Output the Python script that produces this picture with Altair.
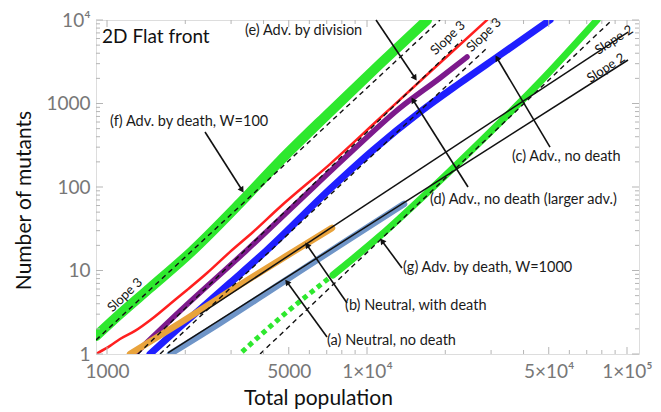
import altair as alt
import pandas as pd

# ---------------- measured curves: total population vs. number of mutants ----------------
# (f) advantage by death, W=100 (green, thick)
f_x = [907, 1122, 1463, 2123, 3247, 4627, 7205, 11220, 17010]
f_y = [1.64, 3.01, 6.17, 17.1, 64.3, 205, 791, 2972, 10000]

# (e) advantage by division (red)
e_x = [923, 1027, 1122, 1281, 1503, 1747, 2031, 2425, 2972, 3643, 4627, 7205, 11220, 17470, 28940]
e_y = [1.03, 1.25, 1.51, 1.89, 2.70, 3.97, 5.84, 9.33, 16.7, 28.9, 57.6, 188, 670, 2384, 10000]

# (d) advantageous, no death, larger advantage (purple)
d_x = [1281, 1909, 3455, 5524, 8603, 13395, 19090, 24250]
d_y = [1.0, 3.27, 17.6, 69.9, 255, 884, 2020, 3606]

# (c) advantageous, no death (blue)
c_x = [1463, 1909, 2972, 4125, 7205, 10550, 15990, 22790, 32470, 50560]
c_y = [1.0, 2.11, 7.09, 17.6, 94.6, 277, 791, 1761, 3809, 10000]

# (b) neutral, with death (orange)
b_x = [1226, 1909, 2972, 4627, 7335]
b_y = [1.0, 2.35, 5.68, 13.4, 32.3]

# (a) neutral, no death (steel blue)
a_x = [1747, 2720, 4627, 7875, 13876]
a_y = [1.0, 2.35, 6.89, 20.2, 62.6]

# (g) advantage by death, W=1000 (green; sparse points at small sizes)
g_x = [3305, 4627, 7400, 11220, 17470, 27210, 46270, 76680]
g_y = [1.06, 2.70, 8.83, 25.9, 92.0, 346, 1808, 10000]
g_sparse_until = 3  # first points drawn as separate markers

# ---------------- power-law guide lines (endpoints) ----------------
slope3_x0 = [907, 1316, 1599, 3878]
slope3_y0 = [1.47, 1.0, 1.0, 1.0]
slope3_x1 = [19090, 23200, 28940, 87560]
slope3_y1 = [10000, 5757, 4620, 10000]

slope2_x0 = [2279, 1717]
slope2_y0 = [3.01, 1.03]
slope2_x1 = [100900, 100900]
slope2_y1 = [7178, 3318]

# ---------------- annotations ----------------
label_text = ["(e) Adv. by division", "(f) Adv. by death, W=100", "(c) Adv., no death",
              "(d) Adv., no death (larger adv.)", "(g) Adv. by death, W=1000",
              "(b) Neutral, with death", "(a) Neutral, no death"]
label_x = [3395, 1027, 36120, 17470, 13750, 8230, 7017]
label_y = [7387, 600, 229, 69.9, 10.7, 3.76, 1.43]

arrow_x0 = [10830, 2382, 50560, 24460, 13630, 8375, 7017]
arrow_y0 = [10000, 456, 301, 100, 10.7, 4.08, 1.60]
arrow_x1 = [15300, 3305, 31620, 15030, 11420, 5877, 4924]
arrow_y1 = [2020, 92.0, 3508, 1102, 22.6, 20.2, 7.28]
arrow_dir = [146, 147, 329, 328, 323, 325, 324]

slope3_lbl_x = [1173, 20490, 28180]
slope3_lbl_y = [5.09, 6085, 6610]
slope2_lbl_x = [89130, 83040]
slope2_lbl_y = [5757, 2661]

# tick positions
x_major = [1000, 5000, 10000, 50000, 100000]
x_minor = [v * m for v in (1000, 10000) for m in range(2, 10) if v * m not in x_major]
y_major = [1, 10, 100, 1000, 10000]
y_minor = [v * m for v in (1, 10, 100, 1000) for m in range(2, 10)]

W, H = 543, 334
FONT = "Lato"

xs = alt.Scale(type="log", domain=[907, 111200], nice=False)
ys = alt.Scale(type="log", domain=[1, 10000], nice=False)

x_axis = alt.Axis(
    values=x_major,
    labelExpr="datum.value == 10000 ? '1×10⁴' : datum.value == 50000 ? '5×10⁴' : "
              "datum.value == 100000 ? '1×10⁵' : format(datum.value, 'd')",
    ticks=False, domain=False, grid=False, labelFont=FONT, labelFontSize=19,
    labelColor="#777777", labelPadding=8, labelFlush=False, labelOverlap=False,
    title="Total population", titleFont=FONT, titleFontSize=21, titleColor="#111111",
    titleFontWeight="normal", titleX=222, titleY=50, titleAlign="center",
    titleBaseline="alphabetic",
)
y_axis = alt.Axis(
    values=y_major,
    labelExpr="datum.value == 10000 ? '10⁴' : format(datum.value, 'd')",
    ticks=False, domain=False, grid=False, labelFont=FONT, labelFontSize=19,
    labelColor="#777777", labelPadding=6, labelOverlap=False,
    title="Number of mutants", titleFont=FONT, titleFontSize=21, titleColor="#111111",
    titleFontWeight="normal", titleAngle=270, titleX=-66, titleY=180,
    titleAlign="center", titleBaseline="alphabetic",
)


def X(field="x"):
    return alt.X(f"{field}:Q", scale=xs, axis=x_axis)


def Y(field="y"):
    return alt.Y(f"{field}:Q", scale=ys, axis=y_axis)


def curve(xv, yv, color, width, dash=None, cap="round"):
    df = pd.DataFrame({"x": xv, "y": yv})
    kw = dict(color=color, strokeWidth=width, clip=True, interpolate="monotone", strokeCap=cap)
    if dash:
        kw["strokeDash"] = dash
    return alt.Chart(df).mark_line(**kw).encode(x=X(), y=Y())


def segments(x0, y0, x1, y1, width, dash=None):
    df = pd.DataFrame({"x": x0, "y": y0, "x2": x1, "y2": y1})
    kw = dict(color="#111111", strokeWidth=width, clip=True)
    if dash:
        kw["strokeDash"] = dash
    return alt.Chart(df).mark_rule(**kw).encode(
        x=X(), y=Y(), x2="x2:Q", y2="y2:Q")


GREEN = "#2ee82e"
layers = [
    curve(f_x, f_y, GREEN, 10),
    curve(e_x, e_y, "#ff1f1f", 2.5),
    curve(d_x, d_y, "#7d1a8c", 5.5),
    curve(c_x, c_y, "#1f1fff", 7),
    curve(b_x, b_y, "#e9a33c", 6.5),
    curve(a_x, a_y, "#6f95c8", 6.5),
    curve(g_x[:g_sparse_until], g_y[:g_sparse_until], GREEN, 5, dash=[5, 4], cap="butt"),
    curve(g_x[g_sparse_until - 1:], g_y[g_sparse_until - 1:], GREEN, 7),
    segments(slope3_x0, slope3_y0, slope3_x1, slope3_y1, 1.4, dash=[5, 4]),
    segments(slope2_x0, slope2_y0, slope2_x1, slope2_y1, 1.5),
]

# frame ticks (inside the plot frame on all four sides)
TICK = "#b5b5b5"
for vals, ln in ((x_major, 7), (x_minor, 4)):
    tdf = pd.DataFrame({"x": vals})
    layers.append(alt.Chart(tdf).mark_rule(color=TICK).encode(
        x=X(), y=alt.value(H), y2=alt.value(H - ln)))
    layers.append(alt.Chart(tdf).mark_rule(color=TICK).encode(
        x=X(), y=alt.value(0), y2=alt.value(ln)))
for vals, ln in ((y_major, 7), (y_minor, 4)):
    tdf = pd.DataFrame({"y": vals})
    layers.append(alt.Chart(tdf).mark_rule(color=TICK).encode(
        y=Y(), x=alt.value(0), x2=alt.value(ln)))
    layers.append(alt.Chart(tdf).mark_rule(color=TICK).encode(
        y=Y(), x=alt.value(W), x2=alt.value(W - ln)))

# arrows
arrows = pd.DataFrame({"x": arrow_x0, "y": arrow_y0, "x2": arrow_x1, "y2": arrow_y1})
heads = pd.DataFrame({"x": arrow_x1, "y": arrow_y1, "dir": arrow_dir})
layers.append(alt.Chart(arrows).mark_rule(color="#111111", strokeWidth=1.6).encode(
    x=X(), y=Y(), x2="x2:Q", y2="y2:Q"))
layers.append(alt.Chart(heads).mark_point(
    shape="triangle-up", filled=True, color="#111111", size=45, opacity=1).encode(
    x=X(), y=Y(), angle=alt.Angle("dir:Q", scale=None)))

# text labels
labels = pd.DataFrame({"x": label_x, "y": label_y, "t": label_text})
layers.append(alt.Chart(labels).mark_text(
    align="left", baseline="middle", font=FONT, fontSize=14.5, color="#1a1a1a").encode(
    x=X(), y=Y(), text="t:N"))

title_df = pd.DataFrame({"x": [957], "y": [6255], "t": ["2D Flat front"]})
layers.append(alt.Chart(title_df).mark_text(
    align="left", baseline="middle", font=FONT, fontSize=19, color="#111111").encode(
    x=X(), y=Y(), text="t:N"))

s3 = pd.DataFrame({"x": slope3_lbl_x, "y": slope3_lbl_y, "t": ["Slope 3"] * 3})
layers.append(alt.Chart(s3).mark_text(
    align="center", baseline="middle", font=FONT, fontSize=13, angle=316,
    color="#111111").encode(x=X(), y=Y(), text="t:N"))
s2 = pd.DataFrame({"x": slope2_lbl_x, "y": slope2_lbl_y, "t": ["Slope 2"] * 2})
layers.append(alt.Chart(s2).mark_text(
    align="center", baseline="middle", font=FONT, fontSize=13, angle=327,
    color="#111111").encode(x=X(), y=Y(), text="t:N"))

chart = alt.layer(*layers).properties(
    width=W, height=H,
    autosize=alt.AutoSizeParams(type="none"),
    padding={"left": 96, "top": 20, "right": 22, "bottom": 58},
).configure_view(stroke="#b0b0b0", strokeWidth=1).configure(background="white")

chart.save("out.html", embed_options={"renderer": "svg", "actions": False})
